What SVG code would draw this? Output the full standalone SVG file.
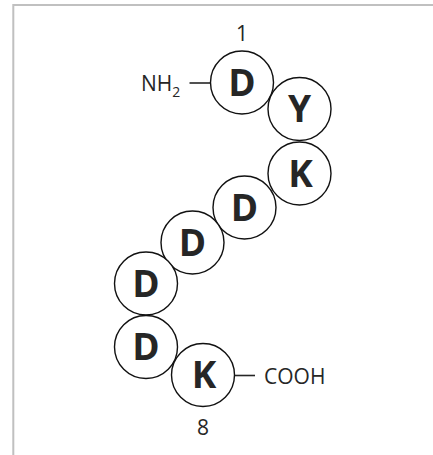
<svg xmlns="http://www.w3.org/2000/svg" width="433" height="455" viewBox="0 0 433 455">
<style>
.frame{fill:none;stroke:#c0c0c0;stroke-width:2}
.res circle{fill:#fff;stroke:#111;stroke-width:1.4}
.res text{font-family:"Open Sans","Liberation Sans",Arial,sans-serif;font-weight:bold;font-size:37px;fill:#262626;text-anchor:middle}
.lbl{font-family:"Open Sans","Liberation Sans",Arial,sans-serif;font-size:21px;fill:#262626}
.bond{stroke:#262626;stroke-width:1.6}
</style>
<rect width="433" height="455" fill="#fff"/>
<path class="frame" d="M13.3,456 V5 H434"/>
<g id="connectors">
<line class="bond" x1="189.5" y1="83" x2="210.5" y2="83"/>
<line class="bond" x1="234.5" y1="375.5" x2="255" y2="375.5"/>
</g>
<g id="res1" class="res"><circle cx="242" cy="82.5" r="31.5"/><text x="242" y="95.5">D</text></g>
<g id="res2" class="res"><circle cx="299.5" cy="109" r="31.5"/><text x="299.5" y="122">Y</text></g>
<g id="res3" class="res"><circle cx="299.5" cy="173.5" r="31.5"/><text x="300.5" y="186.5">K</text></g>
<g id="res4" class="res"><circle cx="244.5" cy="207.5" r="31.5"/><text x="244.5" y="220.5">D</text></g>
<g id="res5" class="res"><circle cx="192.5" cy="242.5" r="31.5"/><text x="192.5" y="255.5">D</text></g>
<g id="res6" class="res"><circle cx="146" cy="283.5" r="31.5"/><text x="146" y="296.5">D</text></g>
<g id="res7" class="res"><circle cx="146" cy="347" r="31.5"/><text x="146" y="360">D</text></g>
<g id="res8" class="res"><circle cx="203" cy="375" r="31.5"/><text x="204" y="388">K</text></g>
<g id="nterm"><text class="lbl" x="141" y="91">NH<tspan font-size="14" dy="5.5">2</tspan></text></g>
<g id="cterm"><text class="lbl" x="264" y="384">COOH</text></g>
<g id="num1"><text class="lbl" x="242" y="41" text-anchor="middle">1</text></g>
<g id="num8"><text class="lbl" x="203" y="435" text-anchor="middle">8</text></g>
</svg>
